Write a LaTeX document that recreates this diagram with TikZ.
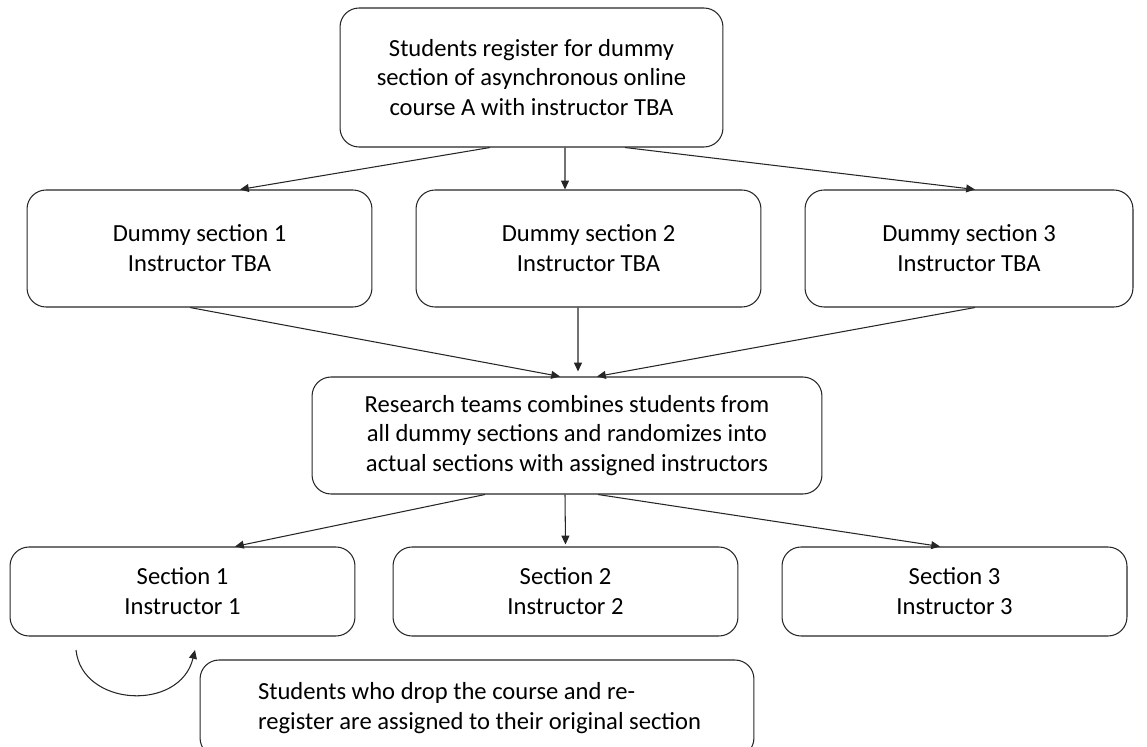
\documentclass[tikz,border=0pt]{standalone}
\usepackage{fontspec}
\setmainfont{Carlito}
\usepackage{xcolor}
\usepackage{tikz}
\usetikzlibrary{arrows.meta}
\usetikzlibrary{positioning}

\begin{document}
\begin{tikzpicture}[
	x=0.02cm, y=-0.02cm,
	font=\fontsize{14}{17}\selectfont
]
\tikzset{
    flowbox/.style = {rectangle, rounded corners=0.38cm, draw=black!85, line width=0.6pt, align=center, inner sep=0pt},
    flowarrow/.style = {draw=black!85, line width=0.6pt, -{Triangle[length=5pt,width=4.5pt]}}
}
\useasboundingbox (0,0) rectangle (1147,747);
% top
\node[flowbox,minimum width=7.66cm,minimum height=2.78cm] (reg) at (531.5,77.5) {Students register for dummy\\section of asynchronous online\\course A with instructor TBA};
% dummy sections
\node[flowbox,minimum width=6.9cm,minimum height=2.34cm] (dummyA) at (199.5,248.5) {Dummy section 1\\Instructor TBA};
\node[flowbox,minimum width=6.9cm,minimum height=2.34cm] (dummyB) at (588.5,248.5) {Dummy section 2\\Instructor TBA};
\node[flowbox,minimum width=6.56cm,minimum height=2.34cm] (dummyC) at (969,248.5) {Dummy section 3\\Instructor TBA};
% randomization
\node[flowbox,minimum width=10.2cm,minimum height=2.34cm] (rand) at (567,435.5) {Research teams combines students from\\all dummy sections and randomizes into\\actual sections with assigned instructors};
% actual sections
\node[flowbox,minimum width=6.9cm,minimum height=1.78cm] (secA) at (182.5,591.5) {Section 1\\Instructor 1};
\node[flowbox,minimum width=6.9cm,minimum height=1.78cm] (secB) at (565.5,591.5) {Section 2\\Instructor 2};
\node[flowbox,minimum width=6.9cm,minimum height=1.78cm] (secC) at (954.5,591.5) {Section 3\\Instructor 3};
% note
\node[flowbox,align=flush left,minimum width=11.08cm,minimum height=1.94cm,inner xsep=0.2cm,text width=10.68cm] (note) at (477,708.5) {\hspace*{0.96cm}Students who drop the course and re-\\\hspace*{0.96cm}register are assigned to their original section};
\coordinate (loopstart) at (76,650);
\coordinate (loopend) at (195,650);

\draw[flowarrow] ([xshift=-0.83cm]reg.south) -- ([xshift=0.81cm]dummyA.north);
\draw[flowarrow] ([xshift=0.67cm]reg.south) -- ([xshift=-0.47cm]dummyB.north);
\draw[flowarrow] ([xshift=1.87cm]reg.south) -- ([xshift=0.12cm]dummyC.north);
\draw[flowarrow] ([xshift=-0.19cm]dummyA.south) -- ([xshift=-0.14cm]rand.north);
\draw[flowarrow] ([xshift=-0.21cm]dummyB.south) -- ([xshift=0.22cm,yshift=0.1cm]rand.north);
\draw[flowarrow] ([xshift=0.12cm]dummyC.south) -- ([xshift=0.6cm]rand.north);
\draw[flowarrow] ([xshift=-1.64cm]rand.south) -- ([xshift=1.05cm]secA.north);
\draw[flowarrow] ([xshift=-0.04cm]rand.south) -- ([yshift=0.04cm]secB.north);
\draw[flowarrow] ([xshift=0.62cm]rand.south) -- ([xshift=-0.29cm]secC.north);
\draw[flowarrow] (loopstart) .. controls (82,707) and (180,712) .. (loopend);
\end{tikzpicture}
\end{document}
